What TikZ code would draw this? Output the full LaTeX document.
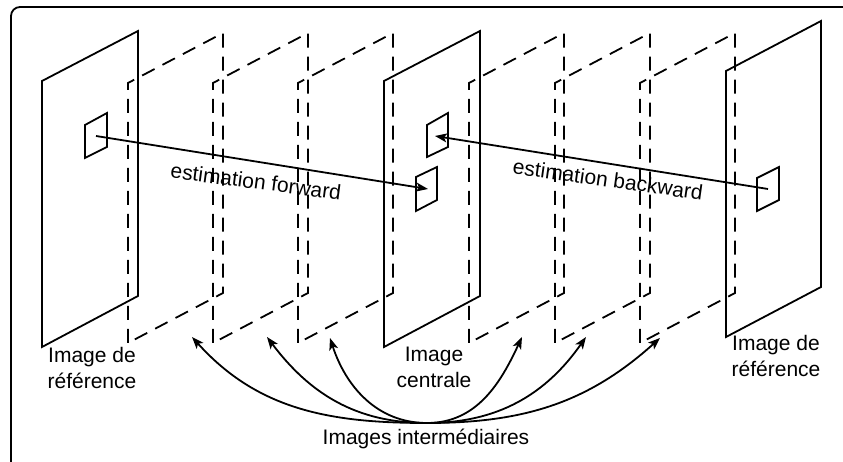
\documentclass[tikz,border=0pt]{standalone}
\usepackage{fontspec}
\setmainfont{Liberation Sans}
\usetikzlibrary{arrows.meta}
\definecolor{Ink}{RGB}{0,0,0}
\tikzset{
  >={Stealth[length=12pt,width=9pt,inset=3pt]},
  plane/.style={draw=Ink,line width=1.8pt,line join=miter},
  hiddenplane/.style={draw=Ink,line width=1.8pt,dash pattern=on 14pt off 9pt},
  patch/.style={draw=Ink,line width=1.8pt},
  caption/.style={font=\fontsize{21pt}{26pt}\selectfont,text=Ink,align=center,inner sep=0pt},
  motion/.style={->,line width=1.8pt,draw=Ink},
  spread/.style={->,line width=1.8pt,draw=Ink}
}

\begin{document}
\begin{tikzpicture}[x=1pt,y=1pt]
  \useasboundingbox (0,0) rectangle (843,462);
  \clip (0,0) rectangle (843,462);
  \draw[line width=1.8pt,rounded corners=9pt] (11,-10) rectangle (852,455);
  % intermediate images
  \draw[hiddenplane] (128,119) -- (128,379) -- (223,429) -- (223,169) -- cycle;
  \draw[hiddenplane] (213,119) -- (213,379) -- (308,429) -- (308,169) -- cycle;
  \draw[hiddenplane] (298,119) -- (298,379) -- (393,429) -- (393,169) -- cycle;
  \draw[hiddenplane] (469,119) -- (469,379) -- (564,429) -- (564,169) -- cycle;
  \draw[hiddenplane] (555,119) -- (555,379) -- (650,429) -- (650,169) -- cycle;
  \draw[hiddenplane] (640,119) -- (640,379) -- (735,429) -- (735,169) -- cycle;
  % reference and central images
  \draw[plane] (42,115) -- (42,381) -- (138,431) -- (138,166) -- cycle;
  \draw[plane] (384,115) -- (384,381) -- (480,431) -- (480,166) -- cycle;
  \draw[plane] (726,125) -- (726,391) -- (821,441) -- (821,175) -- cycle;
  % blocks
  \draw[patch] (85,304) -- (85,337) -- (107,349) -- (107,315) -- cycle;
  \draw[patch] (427,305) -- (427,337) -- (448,349) -- (448,315) -- cycle;
  \draw[patch] (416,251) -- (416,285) -- (437,295) -- (437,262) -- cycle;
  \draw[patch] (757,251) -- (757,284) -- (779,295) -- (779,262) -- cycle;
  \coordinate (refL) at (96,326);
  \coordinate (midLow) at (428,273);
  \coordinate (midUp) at (435,326);
  \coordinate (refR) at (768,273);
  \draw[motion] (refL) -- (midLow);
  \draw[motion] (refR) -- (midUp);
  \node[caption,rotate=-7.5] (fwd) at (256,280.5) {estimation forward};
  \node[caption,rotate=-8] (bwd) at (608,282.5) {estimation backward};
  % captions
  \node[caption] (capL) at (92,94) {Image de\\référence};
  \node[caption] (capC) at (434,95) {Image\\centrale};
  \node[caption] (capR) at (776,106) {Image de\\référence};
  \node[caption,anchor=base] (inter) at (426,17) {Images intermédiaires};
  \coordinate (hub) at (427,39);
  \coordinate (im1) at (192,125);
  \coordinate (im2) at (267,125);
  \coordinate (im3) at (330,124);
  \coordinate (im4) at (522,125);
  \coordinate (im5) at (586,125);
  \coordinate (im6) at (660,124);
  \draw[spread] (hub) to[out=180,in=-48] (im1);
  \draw[spread] (hub) to[out=180,in=-53] (im2);
  \draw[spread] (hub) to[out=180,in=-72] (im3);
  \draw[spread] (hub) to[out=0,in=-115] (im4);
  \draw[spread] (hub) to[out=0,in=-125] (im5);
  \draw[spread] (hub) to[out=0,in=-138] (im6);
\end{tikzpicture}
\end{document}
